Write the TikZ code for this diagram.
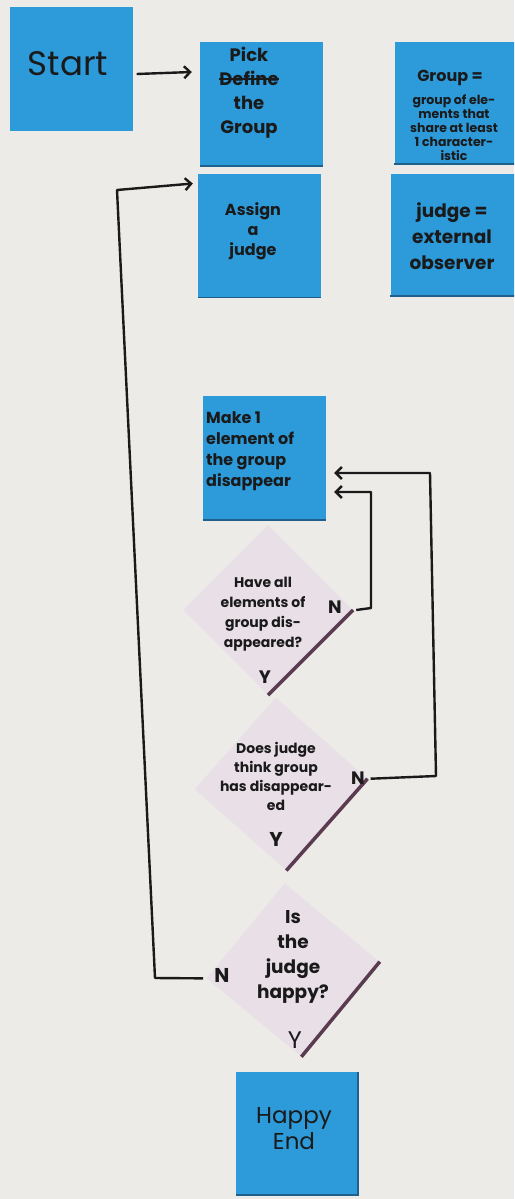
\documentclass[tikz,border=0pt]{standalone}
\usepackage{fontspec}
\setmainfont{Poppins}
\usetikzlibrary{arrows.meta,shapes.geometric,calc}
\definecolor{bg}{HTML}{EDEBE7}
\definecolor{notecol}{HTML}{2D9ADA}
\definecolor{notedark}{HTML}{1F5F8C}
\definecolor{diacol}{HTML}{E8DFE7}
\definecolor{diaedge}{HTML}{5A3B4F}
\definecolor{ink}{HTML}{1A1A1A}
\newlength\strklen
\newcommand\strikeword[1]{\settowidth{\strklen}{#1}\rlap{#1}\rule[0.3em]{\strklen}{2.2pt}}
\tikzset{
  note/.style={fill=notecol, inner sep=0pt, minimum width=123pt, minimum height=124pt},
  notebase/.style={draw=notedark, line width=1.5pt},
  diam/.style={diamond, fill=diacol, inner sep=0pt, minimum width=#1, minimum height=#1},
  diaborder/.style={draw=diaedge, line width=3.5pt},
  txt/.style={text=ink, align=center, inner sep=0pt},
  arr/.style={draw=ink, line width=2.4pt, line join=round, -{Straight Barb[length=6pt,width=12pt,line width=2.4pt]}}
}
\begin{document}
\begin{tikzpicture}[x=1pt,y=-1pt]
\useasboundingbox (0,0) rectangle (514,1199);
\clip (0,0) rectangle (514,1199);
\fill[bg] (0,0) rectangle (514,1199);

% notes
\node[note] (start) at (71,69) {};
\node[note] (pick) at (261.5,104) {};
\node[note, minimum width=125pt, minimum height=122pt] (groupdef) at (457,103) {};
\node[note] (assign) at (259.5,235.5) {};
\node[note, minimum width=125pt, minimum height=122pt] (judgedef) at (453,235) {};
\node[note] (make) at (264.5,458) {};
\node[note, minimum width=122pt, minimum height=123pt] (happyend) at (297,1133.5) {};
\draw[notebase] (pick.south west) -- (pick.south east);
\draw[notebase] (groupdef.south west) -- (groupdef.south east);
\draw[notebase] (assign.south west) -- (assign.south east);
\draw[notebase] (judgedef.south west) -- (judgedef.south east);
\draw[notebase] (make.south west) -- (make.south east);
\draw[notebase] (happyend.south west) -- (happyend.south east) -- (happyend.north east);

% diamonds
\node[diam=170pt] (q1) at (268,610) {};
\node[diam=173pt, rotate=3.5] (q2) at (281,784) {};
\node[diam=174pt, rotate=5.5] (q3) at (293,970) {};
\draw[diaborder] (q1.east) -- (q1.south);
\draw[diaborder] (q2.east) -- (q2.south);
\draw[diaborder] (q3.east) -- (q3.south);

% texts
\node[txt, font=\fontsize{34}{38}\selectfont] (tstart) at (68,64) {Start};
\node[txt, font=\bfseries\fontsize{18}{24}\selectfont] (tpick) at (249,93) {Pick\\\strikeword{Define}\\the\\Group};
\node[txt, font=\bfseries\fontsize{16}{20}\selectfont] (tgroup1) at (450,78) {Group =};
\node[txt, font=\bfseries\fontsize{12.5}{14}\selectfont] (tgroup2) at (454,128) {group of ele-\\ments that\\share at least\\1 character-\\istic};
\node[txt, font=\bfseries\fontsize{16}{20}\selectfont] (tassign) at (253,231) {Assign\\a\\judge};
\node[txt, font=\bfseries\fontsize{18.5}{26}\selectfont] (tjudge) at (452,236) {judge =\\external\\observer};
\node[txt, font=\bfseries\fontsize{16}{21}\selectfont, align=left, anchor=west] (tmake) at (206,451) {Make 1\\element of\\the group\\disappear};
\node[txt, font=\bfseries\fontsize{14}{20}\selectfont] (tq1) at (263,614) {Have all\\elements of\\group dis-\\appeared?};
\node[txt, font=\bfseries\fontsize{18}{20}\selectfont] (tq1n) at (335,607) {N};
\node[txt, font=\bfseries\fontsize{18}{20}\selectfont] (tq1y) at (265,677) {Y};
\node[txt, font=\bfseries\fontsize{14}{19}\selectfont] (tq2) at (276,776) {Does judge\\think group\\has disappear-\\ed};
\node[txt, font=\bfseries\fontsize{18}{20}\selectfont] (tq2n) at (358,778) {N};
\node[txt, font=\bfseries\fontsize{20}{20}\selectfont] (tq2y) at (276,839) {Y};
\node[txt, font=\bfseries\fontsize{18.5}{25}\selectfont] (tq3) at (293,957) {Is\\the\\judge\\happy?};
\node[txt, font=\bfseries\fontsize{20}{20}\selectfont] (tq3n) at (222,975) {N};
\node[txt, font=\fontsize{24}{20}\selectfont] (tq3y) at (295,1040) {Y};
\node[txt, font=\fontsize{23}{26}\selectfont] (tend) at (294,1129) {Happy\\End};

% connectors
\coordinate (loopb) at (155,978);
\coordinate (loopt) at (117,190);
\coordinate (q1r) at (371,608);
\coordinate (q1t) at (371,492);
\coordinate (q2r) at (436,776);
\coordinate (q2t) at (430,473);
\draw[arr] ([xshift=4pt,yshift=-5pt]start.east) -- ([xshift=-8pt,yshift=32pt]pick.west);
\draw[arr] ([xshift=-3pt]q3.west) -- (loopb) -- (loopt) -- ([xshift=-5pt,yshift=52pt]assign.west);
\draw[arr] ([xshift=3pt]q1.east) -- (q1r) -- (q1t) -- ([xshift=8pt,yshift=-34pt]make.east);
\draw[arr] ([xshift=3pt]q2.east) -- (q2r) -- (q2t) -- ([xshift=8pt,yshift=-15pt]make.east);
\end{tikzpicture}
\end{document}
